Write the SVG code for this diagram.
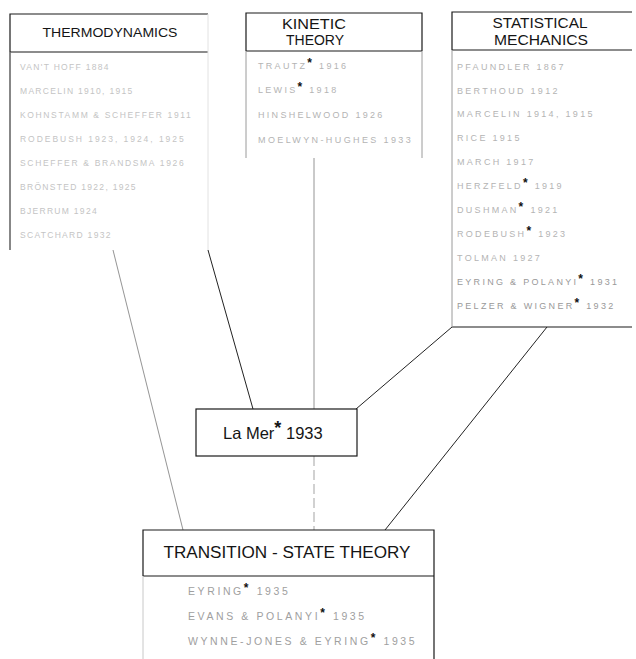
<svg xmlns="http://www.w3.org/2000/svg" width="636" height="659" viewBox="0 0 636 659">
<style>
.bg{fill:#fff}
.box{fill:none;stroke:#1a1a1a;stroke-width:1.2}
.side{fill:none;stroke:#9a9a9a;stroke-width:1}
.title{font-family:"Liberation Sans","DejaVu Sans",sans-serif;fill:#151515;text-anchor:middle}
.item{font-family:"Liberation Sans","DejaVu Sans",sans-serif;fill:#b4b4b4;font-size:9px;letter-spacing:2.3px}
.thermo{font-size:8.5px;letter-spacing:1.3px;fill:#c4c4c4}
.ts{font-size:10.5px;letter-spacing:2.6px;fill:#a0a0a0}
.ast{fill:#111;font-size:12px;font-weight:bold}
.conn{fill:none;stroke:#222;stroke-width:1}
.faint{stroke:#888;stroke-width:0.9}
.dash{stroke:#999;stroke-width:0.9;stroke-dasharray:10 4}
</style>
<rect class="bg" x="0" y="0" width="636" height="659"/>

<g id="connectors">
  <line class="conn faint" x1="113" y1="250" x2="183" y2="530"/>
  <line class="conn" x1="208" y1="250" x2="253" y2="409"/>
  <line class="conn faint" x1="314" y1="158" x2="314" y2="409"/>
  <line class="conn" x1="452" y1="327" x2="356" y2="409"/>
  <line class="conn" x1="547" y1="327" x2="385" y2="530"/>
  <line class="conn dash" x1="314" y1="456" x2="314" y2="530"/>
</g>

<g id="thermodynamics">
  <path class="box" d="M10,250 V14 H208 M10,52 H208"/>
  <path class="side" d="M208,14 V250" stroke="#e0e0e0" style="stroke:#e2e2e2"/>
  <path class="side" d="M10,52 V250"/>
  <text class="title" x="110" y="37" font-size="13.5" textLength="135" lengthAdjust="spacingAndGlyphs">THERMODYNAMICS</text>
  <text class="item thermo" x="20" y="70">VAN'T HOFF 1884</text>
  <text class="item thermo" x="20" y="94">MARCELIN 1910, 1915</text>
  <text class="item thermo" x="20" y="118" textLength="172">KOHNSTAMM &amp; SCHEFFER 1911</text>
  <text class="item thermo" x="20" y="142" textLength="165">RODEBUSH 1923, 1924, 1925</text>
  <text class="item thermo" x="20" y="166" textLength="165">SCHEFFER &amp; BRANDSMA 1926</text>
  <text class="item thermo" x="20" y="190">BRÖNSTED 1922, 1925</text>
  <text class="item thermo" x="20" y="214">BJERRUM 1924</text>
  <text class="item thermo" x="20" y="238">SCATCHARD 1932</text>
</g>

<g id="kinetic-theory">
  <path class="box" d="M246,51 V13 H422 V51 M246,51 H422"/>
  <path class="side" d="M246,51 V158 M422,51 V158"/>
  <text class="title" x="314" y="29" font-size="15" textLength="64" lengthAdjust="spacingAndGlyphs">KINETIC</text>
  <text class="title" x="315" y="45" font-size="15" textLength="58" lengthAdjust="spacingAndGlyphs">THEORY</text>
  <text class="item" x="258" y="69">TRAUTZ<tspan class="ast" dy="-2">*</tspan><tspan dy="2"> 1916</tspan></text>
  <text class="item" x="258" y="93">LEWIS<tspan class="ast" dy="-2">*</tspan><tspan dy="2"> 1918</tspan></text>
  <text class="item" x="258" y="118">HINSHELWOOD 1926</text>
  <text class="item" x="258" y="143" textLength="155">MOELWYN-HUGHES 1933</text>
</g>

<g id="statistical-mechanics">
  <path class="box" d="M452,50 V12 H632 M452,50 H632 M452,327 H632"/>
  <path class="side" d="M452,50 V327"/>
  <text class="title" x="540" y="28" font-size="15" textLength="95" lengthAdjust="spacingAndGlyphs">STATISTICAL</text>
  <text class="title" x="541" y="45" font-size="15" textLength="94" lengthAdjust="spacingAndGlyphs">MECHANICS</text>
  <text class="item" x="457" y="70">PFAUNDLER 1867</text>
  <text class="item" x="457" y="94">BERTHOUD 1912</text>
  <text class="item" x="457" y="117">MARCELIN 1914, 1915</text>
  <text class="item" x="457" y="141">RICE 1915</text>
  <text class="item" x="457" y="165">MARCH 1917</text>
  <text class="item" x="457" y="189">HERZFELD<tspan class="ast" dy="-2">*</tspan><tspan dy="2"> 1919</tspan></text>
  <text class="item" x="457" y="213">DUSHMAN<tspan class="ast" dy="-2">*</tspan><tspan dy="2"> 1921</tspan></text>
  <text class="item" x="457" y="237">RODEBUSH<tspan class="ast" dy="-2">*</tspan><tspan dy="2"> 1923</tspan></text>
  <text class="item" x="457" y="261">TOLMAN 1927</text>
  <text class="item" x="457" y="285" style="fill:#999">EYRING &amp; POLANYI<tspan class="ast" dy="-2">*</tspan><tspan dy="2"> 1931</tspan></text>
  <text class="item" x="457" y="309" style="fill:#999">PELZER &amp; WIGNER<tspan class="ast" dy="-2">*</tspan><tspan dy="2"> 1932</tspan></text>
</g>

<g id="la-mer">
  <rect class="box" x="196" y="409" width="161" height="47"/>
  <text x="223" y="439" font-family="'Liberation Sans','DejaVu Sans',sans-serif" font-size="16.5" fill="#151515">La Mer<tspan font-size="18" font-weight="bold" dy="-5">*</tspan><tspan dy="5"> 1933</tspan></text>
</g>

<g id="transition-state-theory">
  <path class="box" d="M143,576 V530 H434 V659 M143,576 H434"/>
  <path class="side" d="M143,576 V659" style="stroke:#c8c8c8"/>
  <text class="title" x="287" y="558" font-size="16" textLength="247" lengthAdjust="spacingAndGlyphs">TRANSITION - STATE  THEORY</text>
  <text class="item ts" x="188" y="595">EYRING<tspan class="ast" dy="-3">*</tspan><tspan dy="3"> 1935</tspan></text>
  <text class="item ts" x="188" y="620">EVANS &amp; POLANYI<tspan class="ast" dy="-3">*</tspan><tspan dy="3"> 1935</tspan></text>
  <text class="item ts" x="188" y="645">WYNNE-JONES &amp; EYRING<tspan class="ast" dy="-3">*</tspan><tspan dy="3"> 1935</tspan></text>
</g>
</svg>
